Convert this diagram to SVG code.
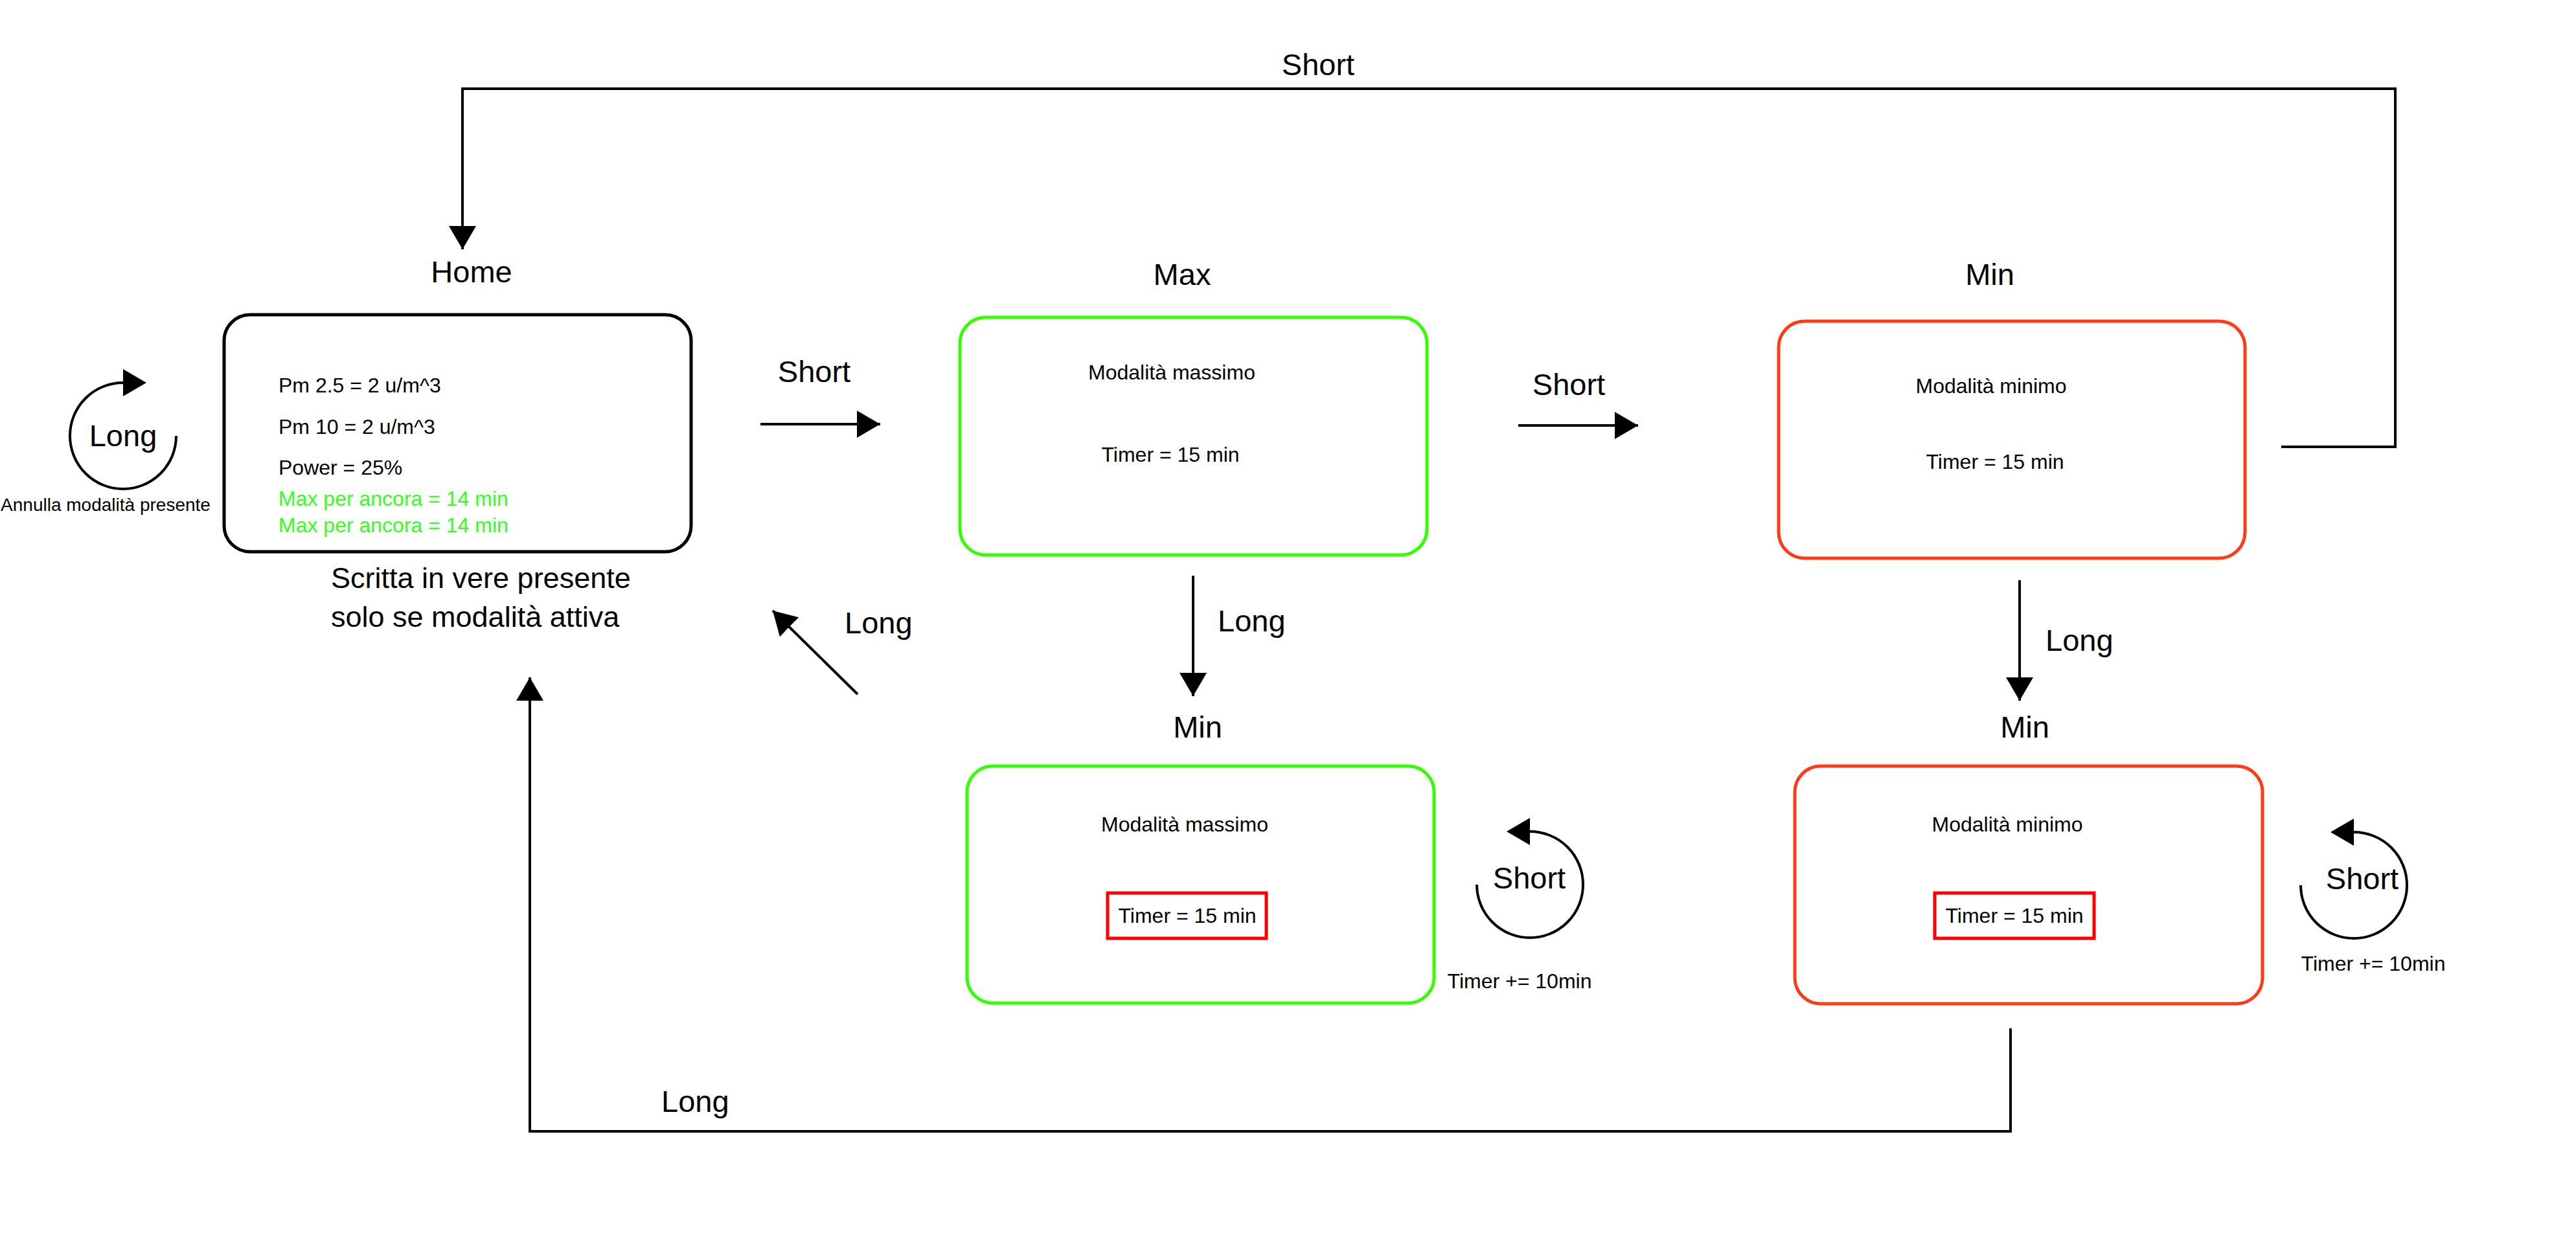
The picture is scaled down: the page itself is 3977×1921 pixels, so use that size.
<svg xmlns="http://www.w3.org/2000/svg" width="3977" height="1921" viewBox="0 0 3977 1921">
<style>
text{font-family:"Liberation Sans",Arial,sans-serif;fill:#000}
.lbl{font-size:47px}
.sm{font-size:32px}
.mid{text-anchor:middle}
.green{fill:#33ff1a}
.node{fill:#fff;stroke-width:5}
.k{stroke:#000}
.g{stroke:#33ff00}
.r{stroke:#ff3a17}
.tbox{fill:none;stroke:#ff0000;stroke-width:5}
.conn{fill:none;stroke:#000;stroke-width:4}
.head{fill:#000}
</style>
<defs>
<marker id="ah" viewBox="0 0 36 42" refX="36" refY="21" markerWidth="36" markerHeight="42" markerUnits="userSpaceOnUse" orient="auto">
<path d="M0,0 L36,21 L0,42 z" fill="#000"/>
</marker>
</defs>
<rect width="3977" height="1921" fill="#fff"/>

<g id="connectors">
<!-- top loop Min -> Home -->
<polyline class="conn" points="3522,690 3698,690 3698,137 714,137 714,385" marker-end="url(#ah)"/>
<text class="lbl mid" x="2035" y="116">Short</text>
<!-- Home -> Max -->
<line class="conn" x1="1174" y1="655" x2="1359" y2="655" marker-end="url(#ah)"/>
<text class="lbl mid" x="1257" y="590">Short</text>
<!-- Max -> Min -->
<line class="conn" x1="2344" y1="657" x2="2529" y2="657" marker-end="url(#ah)"/>
<text class="lbl mid" x="2422" y="610">Short</text>
<!-- Max -> Min (bottom) -->
<line class="conn" x1="1842" y1="889" x2="1842" y2="1075" marker-end="url(#ah)"/>
<text class="lbl" x="1880" y="975">Long</text>
<!-- Min -> Min (bottom) -->
<line class="conn" x1="3118" y1="896" x2="3118" y2="1082" marker-end="url(#ah)"/>
<text class="lbl" x="3158" y="1005">Long</text>
<!-- diagonal back to Home -->
<line class="conn" x1="1324" y1="1072" x2="1193" y2="943" marker-end="url(#ah)"/>
<text class="lbl" x="1304" y="978">Long</text>
<!-- bottom loop -->
<polyline class="conn" points="3104,1588 3104,1747 818,1747 818,1046" marker-end="url(#ah)"/>
<text class="lbl" x="1021" y="1717">Long</text>
<!-- self loop Home -->
<path class="conn" d="M190,591 A82,82 0 1 0 272,673"/>
<polygon class="head" points="190,570 226,591 190,612"/>
<text class="lbl mid" x="190" y="689">Long</text>
<text x="163" y="789" class="mid" style="font-size:28px">Annulla modalità presente</text>
<!-- self loop Max bottom -->
<path class="conn" d="M2362,1284 A82,82 0 1 1 2280,1366"/>
<polygon class="head" points="2362,1263 2326,1284 2362,1305"/>
<text class="lbl mid" x="2361" y="1372">Short</text>
<text class="sm mid" x="2346" y="1526">Timer += 10min</text>
<!-- self loop Min bottom -->
<path class="conn" d="M3634,1285 A82,82 0 1 1 3552,1367"/>
<polygon class="head" points="3634,1264 3598,1285 3634,1306"/>
<text class="lbl mid" x="3647" y="1373">Short</text>
<text class="sm mid" x="3664" y="1499">Timer += 10min</text>
</g>

<g id="home">
<text class="lbl mid" x="728" y="436">Home</text>
<rect class="node k" x="346" y="486" width="721" height="366" rx="40"/>
<text class="sm" x="430" y="606">Pm 2.5 = 2 u/m^3</text>
<text class="sm" x="430" y="670">Pm 10 = 2 u/m^3</text>
<text class="sm" x="430" y="733">Power = 25%</text>
<text class="sm green" x="430" y="781">Max per ancora = 14 min</text>
<text class="sm green" x="430" y="822">Max per ancora = 14 min</text>
<text x="511" y="908" style="font-size:45px">Scritta in vere presente</text>
<text x="511" y="968" style="font-size:45px">solo se modalità attiva</text>
</g>

<g id="max">
<text class="lbl mid" x="1825" y="440">Max</text>
<rect class="node g" x="1482" y="490" width="721" height="367" rx="40"/>
<text class="sm mid" x="1809" y="586">Modalità massimo</text>
<text class="sm mid" x="1807" y="713">Timer = 15 min</text>
</g>

<g id="min">
<text class="lbl mid" x="3072" y="440">Min</text>
<rect class="node r" x="2746" y="496" width="720" height="366" rx="40"/>
<text class="sm mid" x="3074" y="607">Modalità minimo</text>
<text class="sm mid" x="3080" y="724">Timer = 15 min</text>
</g>

<g id="max-min">
<text class="lbl mid" x="1849" y="1139">Min</text>
<rect class="node g" x="1493" y="1183" width="721" height="366" rx="40"/>
<text class="sm mid" x="1829" y="1284">Modalità massimo</text>
<rect class="tbox" x="1710" y="1379" width="245" height="70"/>
<text class="sm mid" x="1833" y="1425">Timer = 15 min</text>
</g>

<g id="min-min">
<text class="lbl mid" x="3126" y="1139">Min</text>
<rect class="node r" x="2771" y="1183" width="722" height="367" rx="40"/>
<text class="sm mid" x="3099" y="1284">Modalità minimo</text>
<rect class="tbox" x="2987" y="1379" width="246" height="70"/>
<text class="sm mid" x="3110" y="1425">Timer = 15 min</text>
</g>
</svg>
